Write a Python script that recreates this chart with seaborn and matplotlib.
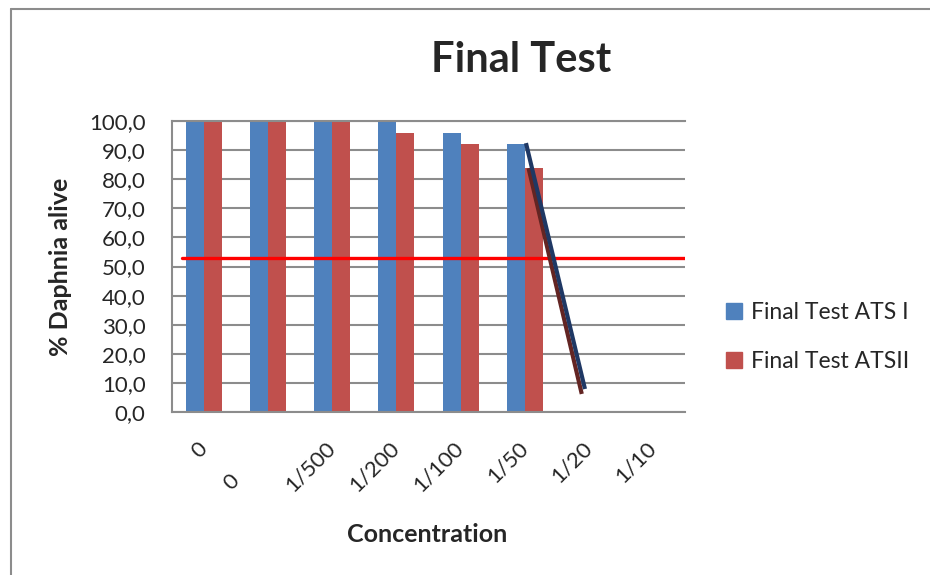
import numpy as np
import pandas as pd
import matplotlib
matplotlib.use("Agg")
import matplotlib.pyplot as plt
import matplotlib.patches as patches
import matplotlib.transforms as mtransforms
from matplotlib.lines import Line2D
from matplotlib.ticker import FuncFormatter
import seaborn as sns

# values
concentrations = ["0", "0", "1/500", "1/200", "1/100", "1/50", "1/20", "1/10"]
ats1_alive = [100, 100, 100, 100, 96, 92, 0, 0]
ats2_alive = [100, 100, 100, 96, 92, 84, 0, 0]
series_names = ["Final Test ATS I", "Final Test ATSII"]

# 50% mortality reference line and the two hand drawn trend lines
threshold = 53
ats1_trend_x = [5.02, 5.94]
ats1_trend_y = [92.4, 7.9]
ats2_trend_x = [5.06, 5.89]
ats2_trend_y = [83.8, 6.2]

blue, red = "#4F81BD", "#C0504D"
grid_grey = "#8c8c8c"

sns.set_style("white")
plt.rcParams["font.family"] = ["Lato", "DejaVu Sans"]

slots = list(range(len(concentrations)))
df = pd.DataFrame({
    "slot": slots * 2,
    "alive": ats1_alive + ats2_alive,
    "series": [series_names[0]] * len(slots) + [series_names[1]] * len(slots),
})

fig = plt.figure(figsize=(9.3, 5.75), dpi=100)
ax = fig.add_axes([172 / 930, 1 - 412 / 575, (685 - 172) / 930, (412 - 121) / 575])

sns.barplot(data=df, x="slot", y="alive", hue="series", order=slots,
            hue_order=series_names, palette=[blue, red], saturation=1,
            width=0.5625, linewidth=0, legend=False, ax=ax, zorder=2)

ax.set_ylim(0, 100)
ax.set_xlim(-0.5, len(slots) - 0.5)
ax.set_yticks(np.arange(0, 101, 10))
ax.yaxis.set_major_formatter(FuncFormatter(lambda v, p: f"{v:.1f}".replace(".", ",")))
ax.grid(axis="y", color=grid_grey, lw=1.5, zorder=0)
ax.set_axisbelow(True)
for side in ["left", "bottom", "top"]:
    ax.spines[side].set_color(grid_grey)
    ax.spines[side].set_linewidth(1.5)
ax.spines["right"].set_visible(False)

ax.tick_params(axis="y", length=0, pad=19, labelsize=16)
ax.tick_params(axis="x", length=0, pad=24, labelsize=16)
ax.set_xticks(slots)
ax.set_xticklabels(concentrations, rotation=45, ha="right", va="center",
                   rotation_mode="anchor")
# the second "0" sits further down in the original (padded label)
lab = ax.get_xticklabels()[1]
lab.set_transform(lab.get_transform() +
                  mtransforms.ScaledTranslation(-0.32, -0.32, fig.dpi_scale_trans))

ax.set_xlabel("")
ax.set_ylabel("% Daphnia alive", fontsize=18, fontweight="bold", labelpad=12)
fig.text(427 / 930, 1 - 535 / 575, "Concentration", fontsize=18,
         fontweight="bold", ha="center", va="center")
fig.text(521 / 930, 1 - 60 / 575, "Final Test", fontsize=30,
         fontweight="bold", ha="center", va="center")

ax.axhline(threshold, xmin=(182 - 172) / (685 - 172), xmax=1, color="#FF0000",
           lw=2.4, zorder=4)
ax.plot(ats2_trend_x, ats2_trend_y, color="#632523", lw=3, zorder=5,
        solid_capstyle="butt")
ax.plot(ats1_trend_x, ats1_trend_y, color="#1F3864", lw=3, zorder=6,
        solid_capstyle="butt")

handles = [patches.Patch(color=blue), patches.Patch(color=red)]
fig.legend(handles, series_names, loc="center left",
           bbox_to_anchor=(726 / 930, 1 - 337 / 575), frameon=False,
           fontsize=16.5, handlelength=0.7, handleheight=0.7,
           handletextpad=0.4, labelspacing=1.2, borderpad=0, borderaxespad=0)

# chart area border (only left and top are visible in the crop)
fig.add_artist(Line2D([11 / 930, 11 / 930], [0, 1 - 9 / 575], color=grid_grey, lw=1.5))
fig.add_artist(Line2D([11 / 930, 1], [1 - 9 / 575, 1 - 9 / 575], color=grid_grey, lw=1.5))

fig.savefig("out.png", dpi=100)
